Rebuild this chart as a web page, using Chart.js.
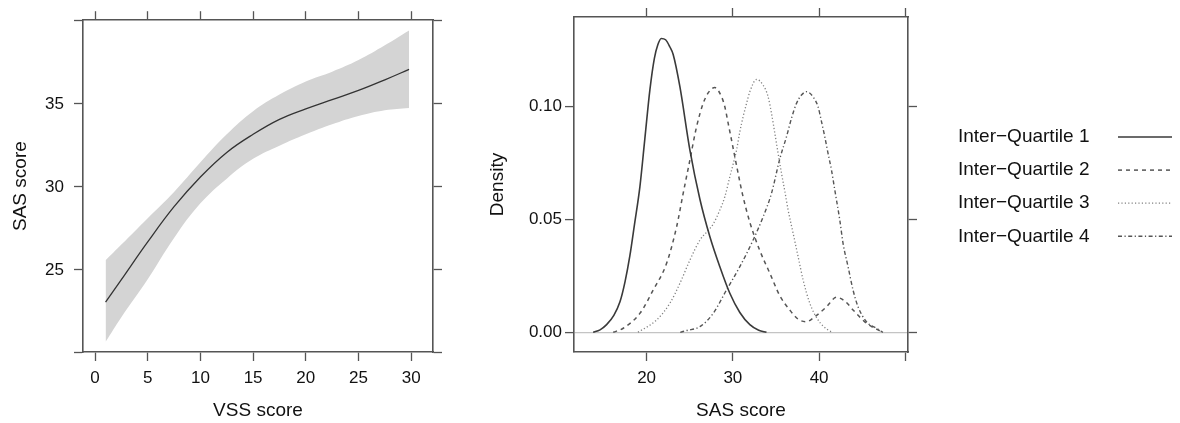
<!DOCTYPE html>
<html><head><meta charset="utf-8">
<script src="https://cdn.jsdelivr.net/npm/chart.js@4.4.1/dist/chart.umd.min.js"></script>
<style>
html,body{margin:0;padding:0;background:#fff;}
#wrap{position:relative;width:1180px;height:423px;overflow:hidden;}
#c1{position:absolute;left:0;top:0;}
#c2{position:absolute;left:470px;top:0;}
</style></head><body>
<div id="wrap">
<canvas id="c1" width="470" height="423"></canvas>
<canvas id="c2" width="710" height="423"></canvas>
</div>
<script>
// ---------- Left panel data: SAS score vs VSS score (fit and band) ----------
const vss      = [1, 2.5, 5, 7.5, 10, 12.5, 15, 17.5, 20, 22.5, 25, 27.5, 29.8];
const sasFit   = [23.06, 24.42, 26.69, 28.81, 30.6, 32.08, 33.17, 34.07, 34.70, 35.26, 35.81, 36.45, 37.08];
const sasUpper = [25.58, 26.53, 28.12, 29.70, 31.49, 33.17, 34.56, 35.56, 36.35, 36.94, 37.64, 38.53, 39.42];
const sasLower = [20.67, 22.16, 24.44, 26.92, 29.01, 30.50, 31.69, 32.48, 33.17, 33.77, 34.27, 34.62, 34.76];
const vssTicks = [0, 5, 10, 15, 20, 25, 30];
const sasTicks = [20, 25, 30, 35, 40];
const sasTickLabels = [25, 30, 35];

// ---------- Right panel data: densities of SAS score by inter-quartile ----------
const seriesNames = ['Inter\u2212Quartile 1', 'Inter\u2212Quartile 2', 'Inter\u2212Quartile 3', 'Inter\u2212Quartile 4'];
const q1x = [13.8, 14.6, 15.36, 16.2, 16.91, 17.5, 18.06, 18.6, 19.22, 19.8, 20.38, 20.9, 21.3, 21.7, 22.2, 22.7, 23.08, 23.86, 25.02, 26.18, 27.33, 28.49, 29.65, 30.81, 31.97, 33.0, 33.9];
const q1d = [0, 0.0011, 0.0034, 0.0075, 0.0135, 0.0225, 0.034, 0.048, 0.0645, 0.086, 0.1075, 0.1215, 0.1275, 0.1303, 0.1297, 0.1265, 0.1232, 0.1089, 0.0808, 0.059, 0.0425, 0.0291, 0.0173, 0.0088, 0.0034, 0.0009, 0];
const q2x = [16.13, 17.29, 19.22, 20.77, 22.32, 23.48, 24.24, 25.02, 25.79, 26.56, 27.2, 27.91, 28.69, 29.07, 29.46, 29.85, 30.23, 30.61, 31.1, 31.97, 33.13, 34.29, 35.45, 36.6, 37.57, 38.54, 39.5, 40.86, 42.0, 43.0, 43.94, 45.5, 47.4];
const q2d = [0, 0.0018, 0.0084, 0.0188, 0.0306, 0.0468, 0.0616, 0.0764, 0.0911, 0.1015, 0.1065, 0.1085, 0.1044, 0.100, 0.0926, 0.0852, 0.0778, 0.0705, 0.0615, 0.0488, 0.0362, 0.0262, 0.0162, 0.0099, 0.0058, 0.0047, 0.0069, 0.0113, 0.0155, 0.0138, 0.0099, 0.004, 0];
const q3x = [19.0, 21.16, 22.7, 23.86, 25.02, 26.2, 27.0, 27.72, 28.49, 29.07, 29.65, 30.03, 30.43, 30.81, 31.19, 31.59, 31.97, 32.75, 33.51, 34.09, 34.48, 34.87, 35.25, 35.64, 36.03, 36.41, 36.99, 37.57, 38.15, 38.92, 39.88, 41.04, 41.6];
const q3d = [0, 0.0055, 0.0129, 0.0217, 0.032, 0.041, 0.0446, 0.048, 0.0542, 0.0601, 0.069, 0.0745, 0.0808, 0.0889, 0.0956, 0.1015, 0.1067, 0.1121, 0.1096, 0.1044, 0.0971, 0.0882, 0.0793, 0.0705, 0.0625, 0.0542, 0.0439, 0.0335, 0.0232, 0.0129, 0.0055, 0.001, 0];
const q4x = [23.9, 24.63, 26.18, 27.72, 29.27, 30.81, 32.35, 33.51, 34.48, 35.45, 36.22, 36.8, 37.38, 37.96, 38.54, 39.3, 39.88, 40.28, 40.66, 41.04, 41.44, 41.82, 42.4, 42.78, 43.36, 43.94, 44.52, 45.49, 46.65, 47.4];
const q4d = [0, 0.0008, 0.0025, 0.0084, 0.0188, 0.0291, 0.0409, 0.0512, 0.0616, 0.077, 0.0867, 0.0949, 0.1015, 0.1052, 0.1067, 0.1044, 0.100, 0.0934, 0.0867, 0.0793, 0.0719, 0.0631, 0.0498, 0.0394, 0.0291, 0.0187, 0.0113, 0.0047, 0.0018, 0];
const sasDensTicks = [20, 30, 40, 50];
const sasDensTickLabels = [20, 30, 40];
const densTicks = [0, 0.05, 0.10];

// ---------- styling ----------
const FONT = "'Liberation Sans', Arial, Helvetica, sans-serif";
const TXT = '#111111';
const AX = '#555555';
const TICKFONT = {family: FONT, size: 17};
const TITLEFONT = {family: FONT, size: 19};

const pts = (xs, ys) => xs.map((x, i) => ({x: x, y: ys[i]}));

function axis(pos, min, max, tickVals, opts) {
  const o = {
    type: 'linear', position: pos, min: min, max: max,
    afterBuildTicks: s => { s.ticks = tickVals.map(v => ({value: v})); },
    ticks: Object.assign({font: TICKFONT, color: TXT, maxRotation: 0, autoSkip: false, display: true}, opts.ticks || {}),
    grid: Object.assign({drawOnChartArea: false, drawTicks: true, tickLength: 9, tickColor: AX, tickWidth: 1.3}, opts.grid || {}),
    border: {display: true, color: AX, width: 1.6},
    afterFit: s => { if (s.isHorizontal()) s.height = opts.size; else s.width = opts.size; }
  };
  if (opts.title) o.title = opts.title;
  return o;
}

// ---------- Left chart ----------
const xL = [-1.14, 32.07], yL = [20.06, 40.04];
new Chart(document.getElementById('c1'), {
  type: 'line',
  data: {
    datasets: [
      {label: 'fit', data: pts(vss, sasFit), borderColor: '#333', borderWidth: 1.3, pointRadius: 0, tension: 0.4, fill: false},
      {label: 'lower', data: pts(vss, sasLower), borderWidth: 0, borderColor: 'rgba(0,0,0,0)', pointRadius: 0, tension: 0.4, fill: false},
      {label: 'upper', data: pts(vss, sasUpper), borderWidth: 0, borderColor: 'rgba(0,0,0,0)', pointRadius: 0, tension: 0.4, fill: '-1', backgroundColor: '#d4d4d4'}
    ]
  },
  options: {
    responsive: false, devicePixelRatio: 1, animation: false,
    layout: {padding: 0},
    plugins: {legend: {display: false}, tooltip: {enabled: false}},
    scales: {
      x: axis('bottom', xL[0], xL[1], vssTicks, {size: 71, ticks: {padding: 7},
        title: {display: true, text: 'VSS score', font: TITLEFONT, color: TXT, padding: {top: 0, bottom: 1}}}),
      xTop: axis('top', xL[0], xL[1], vssTicks, {size: 17, ticks: {display: false}}),
      y: axis('left', yL[0], yL[1], sasTicks, {size: 83,
        ticks: {padding: 10, callback: v => sasTickLabels.includes(v) ? String(v) : ''},
        title: {display: true, text: 'SAS score', font: TITLEFONT, color: TXT, padding: {top: 9, bottom: 0}}}),
      yRight: axis('right', yL[0], yL[1], sasTicks, {size: 37, ticks: {display: false}})
    }
  }
});

// ---------- Right chart ----------
const xR = [11.58, 50.31], yR = [-0.00873, 0.1398];
const lineStyles = [
  {color: '#3a3a3a', width: 1.6, dash: []},
  {color: '#555', width: 1.5, dash: [4, 4]},
  {color: '#808080', width: 1.3, dash: [1.2, 2.2]},
  {color: '#555', width: 1.4, dash: [4, 2.5, 1.2, 2.5]}
];
const densX = [q1x, q2x, q3x, q4x], densY = [q1d, q2d, q3d, q4d];

const legendPlugin = {
  id: 'sideLegend',
  afterDraw(chart) {
    const ctx = chart.ctx;
    ctx.save();
    ctx.font = '19px ' + FONT;
    ctx.textBaseline = 'middle';
    ctx.textAlign = 'left';
    chart.data.datasets.forEach((ds, i) => {
      const y = 137 + i * 33.1;
      ctx.fillStyle = TXT;
      ctx.fillText(ds.label, 488, y);
      ctx.beginPath();
      ctx.strokeStyle = ds.borderColor;
      ctx.lineWidth = ds.borderWidth;
      ctx.setLineDash(ds.borderDash);
      ctx.moveTo(648, y);
      ctx.lineTo(702, y);
      ctx.stroke();
    });
    ctx.restore();
  }
};

new Chart(document.getElementById('c2'), {
  type: 'line',
  data: {
    datasets: seriesNames.map((n, i) => ({
      label: n, data: pts(densX[i], densY[i]),
      borderColor: lineStyles[i].color, borderWidth: lineStyles[i].width, borderDash: lineStyles[i].dash,
      pointRadius: 0, cubicInterpolationMode: 'monotone', fill: false
    }))
  },
  options: {
    responsive: false, devicePixelRatio: 1, animation: false,
    layout: {padding: 0},
    plugins: {legend: {display: false}, tooltip: {enabled: false}},
    scales: {
      x: axis('bottom', xR[0], xR[1], sasDensTicks, {size: 71,
        ticks: {padding: 7, callback: v => sasDensTickLabels.includes(v) ? String(v) : ''},
        title: {display: true, text: 'SAS score', font: TITLEFONT, color: TXT, padding: {top: 0, bottom: 1}}}),
      xTop: axis('top', xR[0], xR[1], sasDensTicks, {size: 17, ticks: {display: false}}),
      y: axis('left', yR[0], yR[1], densTicks, {size: 104,
        ticks: {padding: 3, callback: v => v.toFixed(2)},
        grid: {drawOnChartArea: true, color: c => (c.tick && c.tick.value === 0) ? '#c4c4c4' : 'rgba(0,0,0,0)', lineWidth: 1.2},
        title: {display: true, text: 'Density', font: TITLEFONT, color: TXT, padding: {top: 16, bottom: 0}}}),
      yRight: axis('right', yR[0], yR[1], densTicks, {size: 272, ticks: {display: false}})
    }
  },
  plugins: [legendPlugin]
});
</script>
</body></html>
